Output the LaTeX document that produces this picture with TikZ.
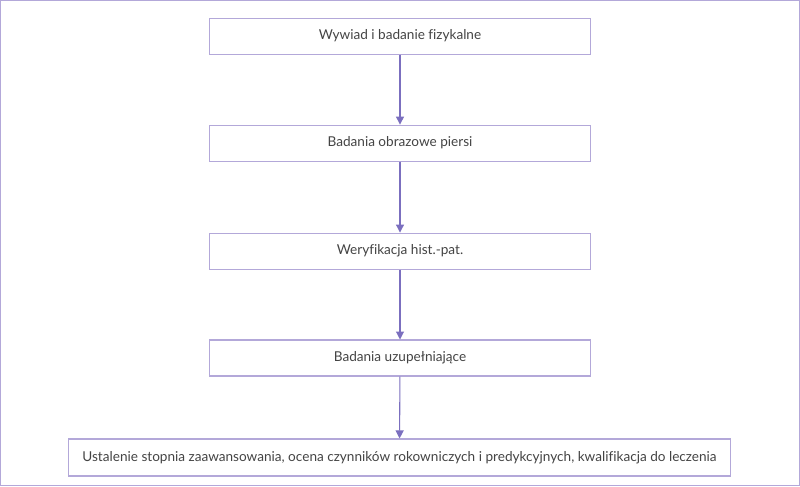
\documentclass[tikz,border=0pt]{standalone}
\usepackage{fontspec}
\setmainfont[Ligatures=NoCommon]{Lato}
\usetikzlibrary{arrows.meta}
\definecolor{frame}{HTML}{B3A8D9}
\definecolor{edge}{HTML}{7B6FBF}
\definecolor{txt}{HTML}{444444}
\begin{document}
\begin{tikzpicture}[x=0.75pt,y=-0.75pt,
 box/.style={draw=frame,line width=0.8pt,fill=white,text=txt,font=\fontsize{10.2}{12}\selectfont,inner sep=0pt},
 arr/.style={draw=edge,line width=0.8pt,-{Triangle[length=6pt,width=6pt]}}]
\draw[frame,line width=1pt,fill=white] (0.5,0.5) rectangle (799.5,485.5);
\useasboundingbox (0,0) rectangle (800,486);
\node[box,minimum width=285.75pt,minimum height=27pt] (a) at (400,36) {Wywiad i badanie fizykalne};
\node[box,minimum width=285.75pt,minimum height=27pt] (b) at (400,143) {Badania obrazowe piersi};
\node[box,minimum width=285.75pt,minimum height=27pt] (c) at (400,251) {Weryfikacja hist.-pat.};
\node[box,minimum width=285.75pt,minimum height=27pt] (d) at (400,358) {Badania uzupełniające};
\node[box,minimum width=497.25pt,minimum height=27.75pt] (e) at (399.5,457.5) {Ustalenie stopnia zaawansowania, ocena czynników rokowniczych i predykcyjnych, kwalifikacja do leczenia};
\draw[arr] (a) -- (b);
\draw[arr] (b) -- (c);
\draw[arr] (c) -- (d);
\draw[arr] (d) -- (e);
\end{tikzpicture}
\end{document}
